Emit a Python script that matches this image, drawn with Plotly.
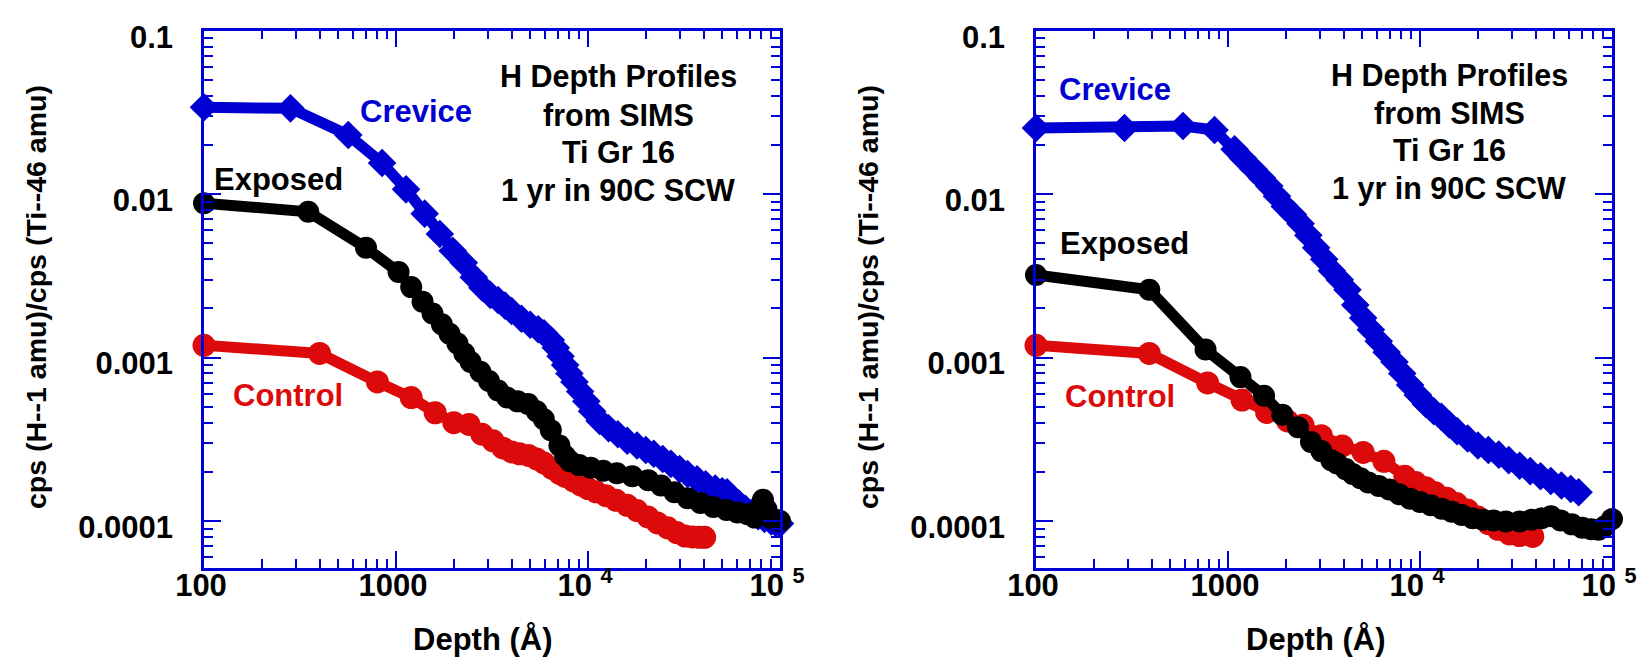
import plotly.graph_objects as go

FONT = "Liberation Sans, Arial, Helvetica, sans-serif"
BLUE = "#0000d2"
RED = "#dc0a0a"
BLACK = "#000000"
FRAME = "#0000d8"

# ---------------- left panel: depth (Å) and H/Ti ratio ----------------
left_crevice_depth = [100, 282, 564, 846, 1128, 1410, 1692, 1974, 2256, 2540, 2820, 3100,
                      3400, 3700, 4000, 4500, 5000, 5500, 5900, 6400, 6800, 7200, 7600, 8000,
                      8500, 9100, 9800, 10500, 11500, 12800, 14300, 16000, 18000, 20000, 22000,
                      24500, 27000, 30000, 33000, 37000, 41000, 46000, 50000, 53000, 57000,
                      61000, 66000, 71000, 77000, 83000, 90000, 95000, 100000]
left_crevice_ratio = [0.0340, 0.0335, 0.0230, 0.0155, 0.0107, 0.0076, 0.0057, 0.0045, 0.0038,
                      0.0031, 0.00268, 0.00242, 0.00225, 0.00208, 0.00193, 0.00173, 0.00159,
                      0.00149, 0.00141, 0.00128, 0.00115, 0.00102, 0.00090, 0.00080, 0.00071,
                      0.00062, 0.00054, 0.00047, 0.00041, 0.00037, 0.00034, 0.00031, 0.00029,
                      0.000272, 0.000258, 0.00024, 0.000224, 0.000208, 0.000194, 0.00018,
                      0.000168, 0.000158, 0.000152, 0.000150, 0.000137, 0.000128, 0.000119,
                      0.000112, 0.000107, 0.000103, 0.0000995, 0.0000975, 0.0000965]

left_exposed_depth = [100, 349, 698, 1031, 1200, 1375, 1550, 1733, 1900, 2090, 2270, 2447,
                      2750, 3048, 3400, 3795, 4300, 4876, 5400, 5888, 6400, 7100, 7600, 8050,
                      9000, 10330, 12000, 14130, 17000, 20590, 24000, 28180, 33000, 38550,
                      45000, 52700, 60000, 67800, 74000, 78000, 81500, 85000, 90000, 95000,
                      100000]
left_exposed_ratio = [0.0088, 0.0078, 0.0047, 0.00334, 0.0027, 0.0022, 0.00186, 0.0016,
                      0.0014, 0.00122, 0.00106, 0.00094, 0.00082, 0.00072, 0.00063, 0.00057,
                      0.00054, 0.00052, 0.00047, 0.00042, 0.00036, 0.00029, 0.00025, 0.000232,
                      0.00022, 0.000212, 0.000203, 0.000196, 0.000188, 0.000178, 0.000165,
                      0.00015, 0.000138, 0.000129, 0.000122, 0.000117, 0.000113, 0.000110,
                      0.000105, 0.000118, 0.000135, 0.000118, 0.000104, 0.000102, 0.000100]

left_control_depth = [100, 400, 800, 1200, 1600, 2000, 2400, 2800, 3200, 3600, 4000, 4400,
                      4900, 5400, 5900, 6500, 7100, 7600, 8400, 9200, 10000, 11000, 12400,
                      14000, 16000, 18000, 20500, 23000, 26000, 29000, 32000, 35000, 38000,
                      40500]
left_control_ratio = [0.00119, 0.00106, 0.00071, 0.00057, 0.00046, 0.00040, 0.00039, 0.00034,
                      0.00031, 0.00028, 0.000265, 0.000258, 0.000252, 0.00024, 0.000227,
                      0.00021, 0.000196, 0.000188, 0.000176, 0.000166, 0.000158, 0.000151,
                      0.000143, 0.000134, 0.000125, 0.000116, 0.000106, 0.0000975, 0.000091,
                      0.000085, 0.000081, 0.0000800, 0.0000795, 0.0000795]

# ---------------- right panel ----------------
right_crevice_depth = [100, 289, 583, 851, 1082, 1200, 1360, 1500, 1640, 1800, 1977, 2180,
                       2388, 2620, 2878, 3170, 3475, 3820, 4190, 4600, 5058, 5550, 6099, 6700,
                       7362, 8080, 8880, 9750, 10720, 11800, 12920, 14200, 15600, 17700, 20030,
                       22700, 25730, 29000, 33040, 37500, 42440, 48000, 54500, 61000, 67000]
right_crevice_ratio = [0.0254, 0.0254, 0.0261, 0.0247, 0.0188, 0.0165, 0.0142, 0.0126, 0.0112,
                       0.0097, 0.0084, 0.0075, 0.0066, 0.0056, 0.0047, 0.0040, 0.0034, 0.0030,
                       0.0026, 0.0021, 0.00175, 0.00148, 0.00126, 0.00108, 0.00094, 0.00080,
                       0.00068, 0.00059, 0.00052, 0.00047, 0.000435, 0.00039, 0.000355,
                       0.00032, 0.00029, 0.000272, 0.000255, 0.000236, 0.000218, 0.000202,
                       0.000188, 0.000176, 0.000165, 0.000157, 0.000150]

right_exposed_depth = [100, 389, 764, 1161, 1541, 1919, 2313, 2705, 3063, 3450, 3697, 4100,
                       4460, 4900, 5380, 6100, 6915, 7800, 8880, 10000, 11400, 13000, 14650,
                       16500, 18800, 21300, 24150, 28000, 33040, 38000, 43000, 48100, 54000,
                       61800, 70000, 78000, 85000, 92000, 100000]
right_exposed_ratio = [0.0032, 0.0026, 0.00112, 0.00076, 0.000585, 0.000448, 0.000375,
                       0.000305, 0.000268, 0.000236, 0.000225, 0.000208, 0.000194, 0.000183,
                       0.000172, 0.000164, 0.000156, 0.000146, 0.000137, 0.000131, 0.000125,
                       0.000119, 0.000114, 0.000109, 0.000104, 0.000102, 0.000101, 0.0000995,
                       0.0000995, 0.000102, 0.000104, 0.000107, 0.000101, 0.0000955, 0.000091,
                       0.0000892, 0.0000885, 0.000093, 0.000103]

right_control_depth = [100, 389, 783, 1183, 1590, 2040, 2460, 3063, 3935, 5058, 6490, 8340,
                       9500, 10720, 12000, 13770, 15500, 17670, 20000, 22700, 25500, 29170,
                       33000, 38650]
right_control_ratio = [0.00119, 0.00106, 0.00070, 0.00055, 0.000462, 0.00041, 0.000386,
                       0.000333, 0.000288, 0.000263, 0.000232, 0.000188, 0.000172, 0.00016,
                       0.000149, 0.000138, 0.000128, 0.000117, 0.000106, 0.0000965, 0.000089,
                       0.0000835, 0.0000815, 0.0000805]

# ---------------- axis ticks and labels ----------------
x_tick_vals = [100, 1000, 10000, 100000]
x_tick_text = ["100", "1000", "10 <sup>4</sup>", "10 <sup>5</sup>"]
y_tick_vals = [0.0001, 0.001, 0.01, 0.1]
y_tick_text = ["0.0001", "0.001", "0.01", "0.1"]

series_labels = ["Crevice", "Exposed", "Control"]
info_lines = ["H Depth Profiles", "from SIMS", "Ti Gr 16", "1 yr in 90C SCW"]
x_title = "Depth (Å)"
y_title = "cps (H--1 amu)/cps (Ti--46 amu)"

W, H = 1639, 659
fig = go.Figure()


def add_series(depth, ratio, color, symbol, size, xa, ya):
    fig.add_trace(go.Scatter(
        x=depth, y=ratio, mode="lines+markers", xaxis=xa, yaxis=ya,
        line=dict(color=color, width=11),
        marker=dict(symbol=symbol, size=size, color=color, line=dict(width=0)),
        cliponaxis=False, showlegend=False, hoverinfo="skip"))


# drawing order: Crevice, Control, then Exposed on top
add_series(left_crevice_depth, left_crevice_ratio, BLUE, "diamond", 22, "x", "y")
add_series(left_control_depth, left_control_ratio, RED, "circle", 23, "x", "y")
add_series(left_exposed_depth, left_exposed_ratio, BLACK, "circle", 22, "x", "y")
add_series(right_crevice_depth, right_crevice_ratio, BLUE, "diamond", 22, "x2", "y2")
add_series(right_control_depth, right_control_ratio, RED, "circle", 23, "x2", "y2")
add_series(right_exposed_depth, right_exposed_ratio, BLACK, "circle", 22, "x2", "y2")

tick_font = dict(family=FONT, size=31, color="black", weight="bold")
minor_ticks = dict(ticks="inside", ticklen=9, tickwidth=2, tickcolor=FRAME,
                   dtick="D1", showgrid=False)


def x_axis(domain, anchor):
    return dict(type="log", range=[2, 5], domain=domain, anchor=anchor,
                automargin=False, ticklabeloverflow="allow",
                showline=True, linecolor=FRAME, linewidth=2.5, mirror="ticks",
                ticks="inside", ticklen=17, tickwidth=2, tickcolor=FRAME,
                tickmode="array", tickvals=x_tick_vals, ticktext=x_tick_text,
                tickfont=tick_font, ticklabelstandoff=-12, ticklabelshift=-3,
                minor=minor_ticks, showgrid=False, zeroline=False)


def y_axis(anchor):
    return dict(type="log", range=[-4.287, -1], domain=[1 - 568 / H, 1 - 30.7 / H],
                anchor=anchor, automargin=False, ticklabeloverflow="allow",
                showline=True, linecolor=FRAME, linewidth=2.5,
                mirror="ticks", ticks="inside", ticklen=17, tickwidth=2,
                tickcolor=FRAME, tickmode="array", tickvals=y_tick_vals,
                ticktext=y_tick_text, tickfont=tick_font,
                ticklabelstandoff=22, ticklabelshift=6,
                minor=minor_ticks, showgrid=False, zeroline=False)


panels = [
    dict(info_cx=618, info_cy=[75, 112.5, 150, 188],
         label_pos=[(416, 109), (278, 178), (288, 393)], ytitle_x=36, xtitle_x=483),
    dict(info_cx=1449, info_cy=[74, 111, 148, 186],
         label_pos=[(1115, 88), (1124, 241), (1120, 394)], ytitle_x=868, xtitle_x=1315),
]

fig.update_layout(
    template="none",
    xaxis=x_axis([204 / W, 780 / W], "y"),
    yaxis=y_axis("x"),
    xaxis2=x_axis([1036 / W, 1612 / W], "y2"),
    yaxis2=y_axis("x2"),
)

annotations = []


def px_note(text, cx, cy, size, color="black", angle=0, yanchor="middle"):
    annotations.append(dict(
        text=text, x=cx / W, y=1 - cy / H, xref="paper", yref="paper",
        xanchor="center", yanchor=yanchor, showarrow=False, textangle=angle,
        font=dict(family=FONT, size=size, color=color, weight="bold")))


label_colors = [BLUE, BLACK, RED]
for p in panels:
    for line, cy in zip(info_lines, p["info_cy"]):
        px_note(line, p["info_cx"], cy + 2, 30.5)
    for name, (cx, cy), col in zip(series_labels, p["label_pos"], label_colors):
        px_note(name, cx, cy + 2, 31, col)
    px_note(x_title, p["xtitle_x"], H, 31, yanchor="bottom")
    px_note(y_title, p["ytitle_x"], 297, 28.5, angle=-90)

fig.update_layout(
    annotations=annotations,
    width=W, height=H,
    margin=dict(l=0, r=0, t=0, b=0),
    paper_bgcolor="white", plot_bgcolor="white",
    font=dict(family=FONT, color="black"),
    showlegend=False,
)

fig.write_html("out.html", include_plotlyjs=True, full_html=True,
               config=dict(displayModeBar=False))
